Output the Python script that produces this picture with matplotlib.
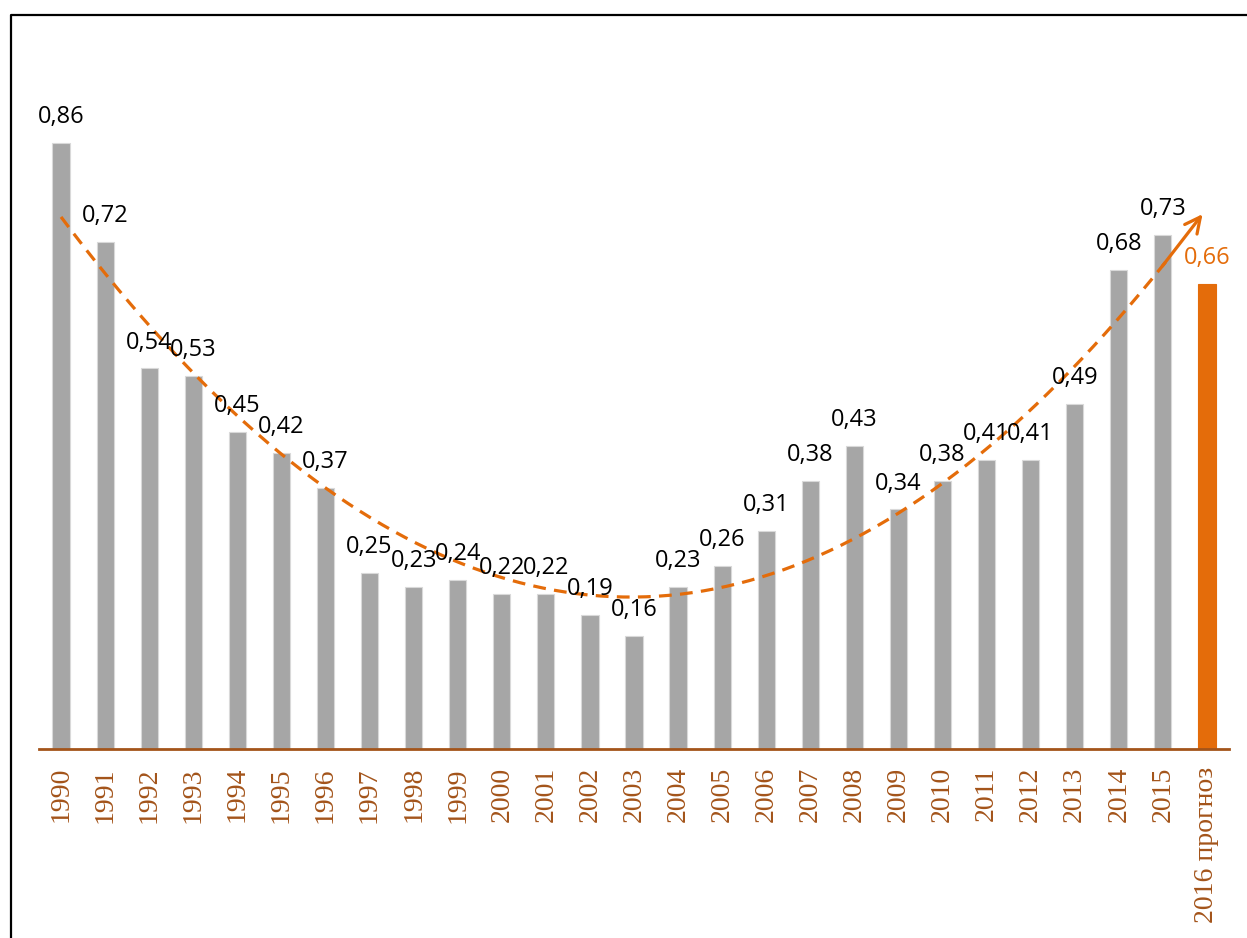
import numpy as np
import matplotlib
matplotlib.use("Agg")
import matplotlib.pyplot as plt
from matplotlib.lines import Line2D

# values
years = ["1990", "1991", "1992", "1993", "1994", "1995", "1996", "1997", "1998",
         "1999", "2000", "2001", "2002", "2003", "2004", "2005", "2006", "2007",
         "2008", "2009", "2010", "2011", "2012", "2013", "2014", "2015",
         "2016 прогноз"]
values = [0.86, 0.72, 0.54, 0.53, 0.45, 0.42, 0.37, 0.25, 0.23, 0.24, 0.22,
          0.22, 0.19, 0.16, 0.23, 0.26, 0.31, 0.38, 0.43, 0.34, 0.38, 0.41,
          0.41, 0.49, 0.68, 0.73, 0.66]
labels = ["0,86", "0,72", "0,54", "0,53", "0,45", "0,42", "0,37", "0,25", "0,23",
          "0,24", "0,22", "0,22", "0,19", "0,16", "0,23", "0,26", "0,31", "0,38",
          "0,43", "0,34", "0,38", "0,41", "0,41", "0,49", "0,68", "0,73", "0,66"]

GRAY = "#A6A6A6"
ORANGE = "#E46C0A"
BROWN = "#A3541A"

W, H = 1247, 938
fig = plt.figure(figsize=(W / 100, H / 100), dpi=100)
ax = fig.add_axes([39 / W, (H - 749) / H, 1190 / W, 704.7 / H])

x = np.arange(len(years))
colors = [GRAY] * (len(years) - 1) + [ORANGE]
edges = ["#D9D9D9"] * (len(years) - 1) + [ORANGE]
ax.bar(x, values, width=0.39, color=colors, edgecolor=edges, linewidth=0.8, zorder=2)

for xi, v, lab, c in zip(x, values, labels, colors):
    tc = ORANGE if c == ORANGE else "black"
    ax.annotate(lab, (xi, v), xytext=(0, 10), textcoords="offset points",
                ha="center", va="bottom", fontsize=17, color=tc,
                family="Open Sans", zorder=4)

# quadratic trend over all bars, drawn with an arrow at the end
coef = np.polyfit(x, np.array(values), 2)
xt = np.linspace(0, 25.9, 200)
yt = np.polyval(coef, xt)
ax.plot(xt[:-6], yt[:-6], color=ORANGE, lw=2.3, linestyle=(0, (4, 2.6)), zorder=3)
ax.annotate("", xy=(xt[-1], yt[-1]), xytext=(xt[-8], yt[-8]),
            arrowprops=dict(arrowstyle="->", color=ORANGE, lw=2.3,
                            mutation_scale=28, shrinkA=0, shrinkB=0), zorder=3)

ax.set_xlim(-0.5, 26.5)
ax.set_ylim(0, 1.0)
ax.set_xticks(x)
ax.set_xticklabels(years, rotation=90, family="Liberation Serif", fontsize=20,
                   color=BROWN, va="top")
ax.tick_params(axis="x", length=0, pad=13)
ax.set_yticks([])
for s in ["top", "right", "left"]:
    ax.spines[s].set_visible(False)
ax.spines["bottom"].set_color(BROWN)
ax.spines["bottom"].set_linewidth(2)

# outer frame (left and top edges visible)
fx = 10.5 / W
fy = 1 - 15.5 / H
fig.add_artist(Line2D([fx, fx, 1.0], [0, fy, fy], color="black", lw=1.6,
                      transform=fig.transFigure))

fig.savefig("out.png", dpi=100)
